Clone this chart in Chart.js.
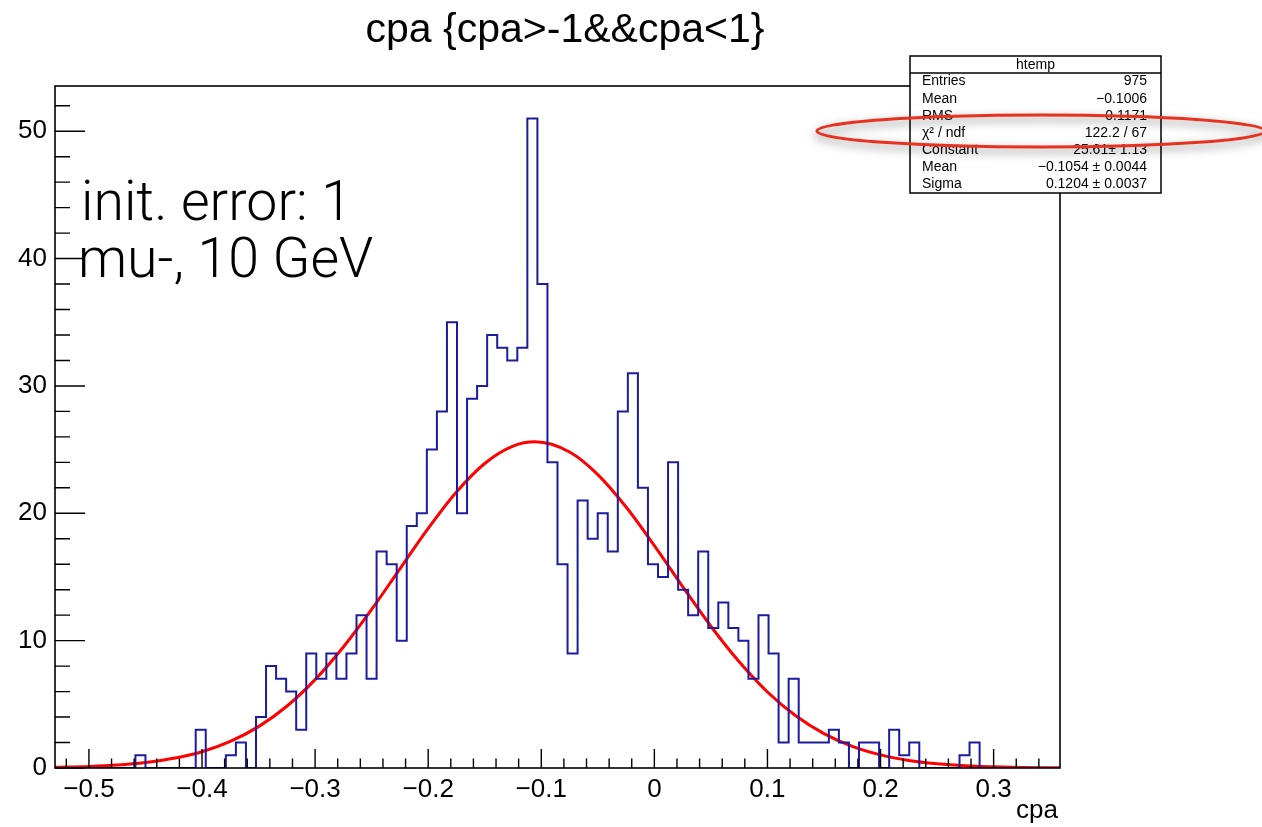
<!DOCTYPE html>
<html>
<head>
<meta charset="utf-8">
<title>cpa {cpa>-1&&cpa<1}</title>
<script src="https://cdn.jsdelivr.net/npm/chart.js@4.4.1/dist/chart.umd.min.js"></script>
<style>
  html, body { margin: 0; padding: 0; background: #fff; }
  #wrap { width: 1262px; height: 827px; }
</style>
</head>
<body>
<div id="wrap"><canvas id="c" width="1262" height="827"></canvas></div>
<script>
// ---------------------------------------------
//  htemp : 100 bins, cpa in [X_MIN, X_MAX]
// ---------------------------------------------
const X_MIN = -0.530;
const X_MAX = 0.3587;
const Y_MAX = 53.55;

const counts = [
    0, 0, 0, 0, 0, 0, 0, 0, 1, 0,
    0, 0, 0, 0, 3, 0, 0, 1, 2, 0,
    4, 8, 7, 6, 3, 9, 7, 9, 7, 9,
    12, 7, 17, 16, 10, 19, 20, 25, 28, 35,
    20, 29, 30, 34, 33, 32, 33, 51, 38, 24,
    16, 9, 21, 18, 20, 17, 28, 31, 22, 16,
    15, 24, 14, 12, 17, 11, 13, 11, 10, 7,
    12, 9, 2, 7, 2, 2, 2, 3, 2, 0,
    2, 2, 0, 3, 1, 2, 0, 0, 0, 0,
    1, 2, 0, 0, 0, 0, 0, 0, 0, 0
];

// gaus fit
const fitX = [-0.530, -0.500, -0.475, -0.450, -0.425, -0.400, -0.375, -0.350, -0.325, -0.300,
              -0.275, -0.250, -0.225, -0.200, -0.175, -0.150, -0.125, -0.1054, -0.075, -0.050,
              -0.025, 0.000, 0.025, 0.050, 0.075, 0.100, 0.125, 0.150, 0.175, 0.200,
              0.225, 0.250, 0.275, 0.300, 0.325, 0.3587];
const fitY = [0.05, 0.12, 0.23, 0.43, 0.76, 1.28, 2.09, 3.25, 4.85, 6.94,
              9.50, 12.45, 15.64, 18.81, 21.67, 23.91, 25.27, 25.61, 24.81, 23.04,
              20.49, 17.46, 14.25, 11.13, 8.34, 5.97, 4.10, 2.70, 1.70, 1.03,
              0.59, 0.33, 0.17, 0.09, 0.04, 0.02];

const xTicks = [-0.5, -0.4, -0.3, -0.2, -0.1, 0, 0.1, 0.2, 0.3];
const yTicks = [0, 10, 20, 30, 40, 50];

const titleText = "cpa {cpa>-1&&cpa<1}";
const xTitle = "cpa";
const noteLines = ["init. error: 1", "mu-, 10 GeV"];

const statsTitle = "htemp";
const statsNames = ["Entries", "Mean", "RMS", "\u03C7\u00B2 / ndf", "Constant", "Mean", "Sigma"];
const statsValues = ["975", "\u22120.1006", "0.1171", "122.2 / 67", "25.61\u00B1 1.13",
                     "\u22120.1054 \u00B1 0.0044", "0.1204 \u00B1 0.0037"];

const FONT = "'Liberation Sans', Arial, Helvetica, sans-serif";

// contour de l'histogramme : deux points par bin
const binW = (X_MAX - X_MIN) / counts.length;
const histPoints = [];
counts.forEach((c, i) => {
    histPoints.push({ x: X_MIN + i * binW, y: c });
    histPoints.push({ x: X_MIN + (i + 1) * binW, y: c });
});
const fitPoints = fitX.map((x, i) => ({ x: x, y: fitY[i] }));

function fmtX(v) {
    if (Math.abs(v) < 1e-9) return "0";
    return (v < 0 ? "\u2212" : "") + Math.abs(v).toFixed(1);
}

// cadre + graduations façon ROOT (vers l'intérieur)
const rootFrame = {
    id: "rootFrame",
    afterDatasetsDraw(chart) {
        const ctx = chart.ctx;
        const a = chart.chartArea;
        const sx = chart.scales.x, sy = chart.scales.y;
        ctx.save();
        ctx.strokeStyle = "#000";
        ctx.lineWidth = 1.6;
        ctx.strokeRect(a.left, a.top, a.right - a.left, a.bottom - a.top);

        ctx.lineWidth = 1.4;
        ctx.beginPath();
        for (let k = -26; k <= 17; k++) {
            const v = k * 0.02;
            if (v < X_MIN || v > X_MAX) continue;
            const px = sx.getPixelForValue(v);
            const len = (k % 5 === 0) ? 19 : 9.5;
            ctx.moveTo(px, a.bottom);
            ctx.lineTo(px, a.bottom - len);
        }
        for (let v = 0; v <= 52; v += 2) {
            const py = sy.getPixelForValue(v);
            const len = (v % 10 === 0) ? 30 : 15;
            ctx.moveTo(a.left, py);
            ctx.lineTo(a.left + len, py);
        }
        ctx.stroke();
        ctx.restore();
    },
    afterDraw(chart) {
        const ctx = chart.ctx;
        const a = chart.chartArea;
        ctx.save();
        ctx.fillStyle = "#000";

        // titre
        ctx.font = "41px " + FONT;
        ctx.textAlign = "center";
        ctx.textBaseline = "alphabetic";
        ctx.fillText(titleText, 565, 42);

        // titre de l'axe x
        ctx.font = "26px " + FONT;
        ctx.textAlign = "right";
        ctx.fillText(xTitle, a.right - 2, 818);

        // annotation
        ctx.font = "300 52px Roboto, " + FONT;
        const w = ctx.measureText(noteLines[1]).width;
        const size = 52 * 295 / w;
        ctx.font = "300 " + size.toFixed(1) + "px Roboto, " + FONT;
        ctx.textAlign = "left";
        ctx.fillText(noteLines[0], 81, 220);
        ctx.fillText(noteLines[1], 78, 277);

        // boîte de stats
        const bx = 910, by = 56, bw = 251, bh = 137, rowH = (bh - 17) / statsNames.length;
        ctx.fillStyle = "#fff";
        ctx.fillRect(bx, by, bw, bh);
        ctx.strokeStyle = "#000";
        ctx.lineWidth = 1.5;
        ctx.strokeRect(bx, by, bw, bh);
        ctx.beginPath();
        ctx.moveTo(bx, by + 17);
        ctx.lineTo(bx + bw, by + 17);
        ctx.stroke();
        ctx.fillStyle = "#000";
        ctx.font = "14px " + FONT;
        ctx.textBaseline = "middle";
        ctx.textAlign = "center";
        ctx.fillText(statsTitle, bx + bw / 2, by + 9);
        statsNames.forEach((n, i) => {
            const y = by + 17 + rowH * (i + 0.5);
            ctx.textAlign = "left";
            ctx.fillText(n, bx + 12, y);
            ctx.textAlign = "right";
            ctx.fillText(statsValues[i], bx + bw - 14, y);
        });

        // ellipse rouge
        ctx.beginPath();
        ctx.ellipse(1041, 131, 224, 16, 0, 0, Math.PI * 2);
        ctx.strokeStyle = "#e8321f";
        ctx.lineWidth = 3;
        ctx.shadowColor = "rgba(0,0,0,0.5)";
        ctx.shadowBlur = 10;
        ctx.shadowOffsetY = 4;
        ctx.stroke();
        ctx.restore();
    }
};

new Chart(document.getElementById("c").getContext("2d"), {
    type: "line",
    data: {
        datasets: [
            {
                label: "htemp",
                data: histPoints,
                borderColor: "#1c1c9e",
                borderWidth: 2,
                pointRadius: 0,
                tension: 0,
                fill: false
            },
            {
                label: "gaus",
                data: fitPoints,
                borderColor: "#ff0000",
                borderWidth: 3,
                pointRadius: 0,
                cubicInterpolationMode: "monotone",
                fill: false
            }
        ]
    },
    options: {
        responsive: false,
        animation: false,
        layout: { padding: { top: 86, right: 202, bottom: 0, left: 0 } },
        plugins: {
            legend: { display: false },
            tooltip: { enabled: false },
            title: { display: false }
        },
        scales: {
            x: {
                type: "linear",
                min: X_MIN,
                max: X_MAX,
                afterBuildTicks: s => { s.ticks = xTicks.map(v => ({ value: v })); },
                afterFit: s => { s.height = 59; },
                grid: { display: false, drawTicks: false },
                border: { display: false },
                ticks: {
                    font: { family: FONT, size: 26 },
                    color: "#000",
                    padding: 6,
                    maxRotation: 0,
                    autoSkip: false,
                    callback: v => fmtX(v)
                }
            },
            y: {
                type: "linear",
                min: 0,
                max: Y_MAX,
                afterBuildTicks: s => { s.ticks = yTicks.map(v => ({ value: v })); },
                afterFit: s => { s.width = 55; },
                grid: { display: false, drawTicks: false },
                border: { display: false },
                ticks: {
                    font: { family: FONT, size: 26 },
                    color: "#000",
                    padding: 8,
                    autoSkip: false,
                    callback: v => String(v)
                }
            }
        }
    },
    plugins: [rootFrame]
});
</script>
</body>
</html>
